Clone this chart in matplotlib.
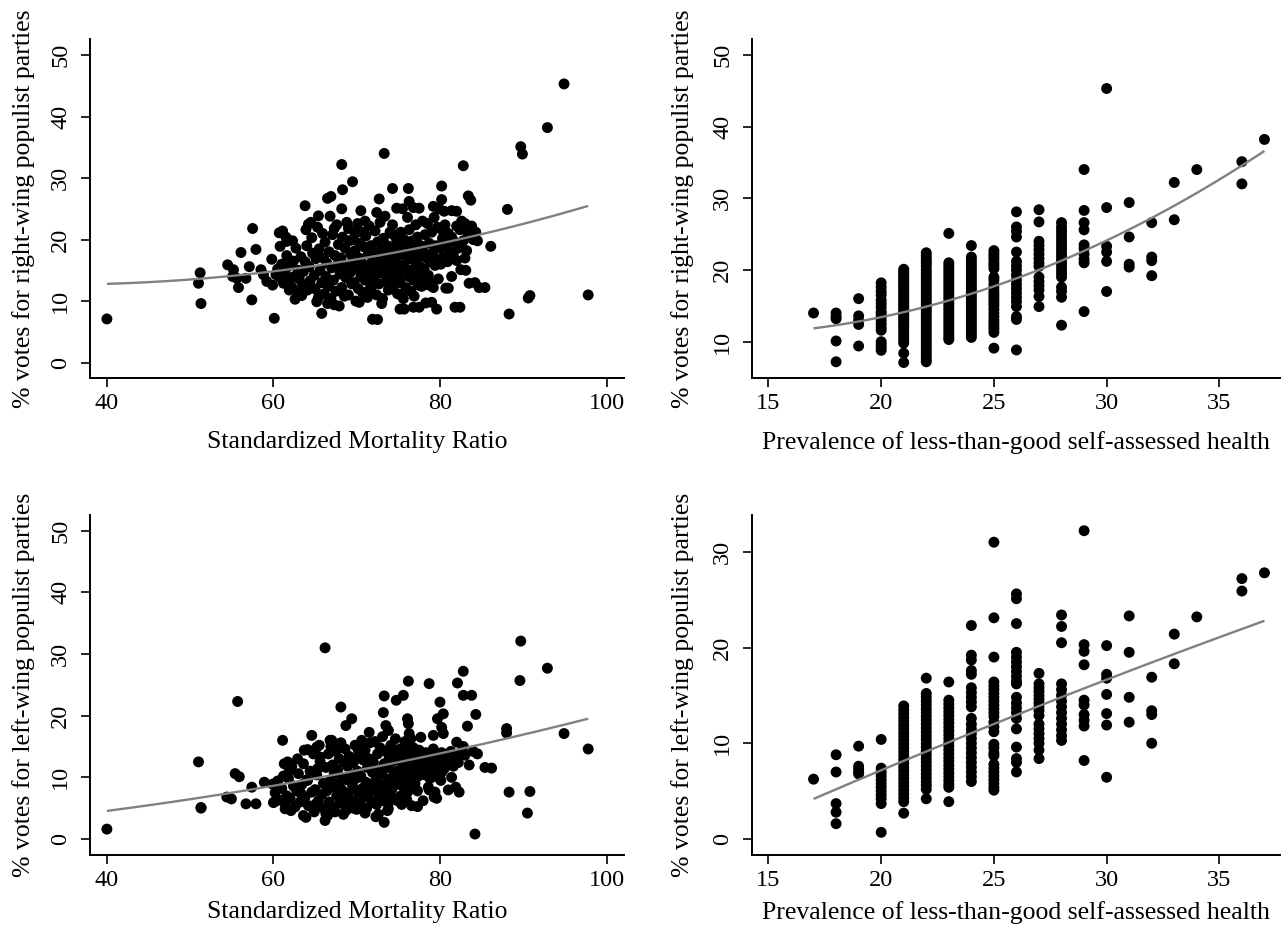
import numpy as np
import matplotlib
matplotlib.use("Agg")
import matplotlib.pyplot as plt

plt.rcParams['font.family'] = ['Liberation Serif', 'DejaVu Serif']

# ---------------- data ----------------
# Top-left: SMR vs right-wing vote (outliers + core cloud)
tl_smr = [40.0, 51.2, 51.0, 51.3, 54.5, 55.6, 55.8, 56.1, 57.5, 57.9, 57.4, 57.1, 60.1, 59.8, 61.1,
          63.8, 65.8, 66.9, 68.2, 68.3, 69.5, 70.5, 72.5, 72.7, 73.3, 74.3, 76.2, 76.3, 77.5, 75.7,
          77.5, 79.0, 79.6, 80.2, 80.2, 82.8, 83.4, 83.7, 82.0, 82.4, 83.1, 84.2, 85.4, 86.1, 81.0,
          88.1, 88.3, 89.7, 89.9, 90.6, 90.8, 92.9, 94.9, 97.8, 55.2, 55.1, 56.7, 58.5, 58.8, 59.2,
          59.9, 60.7, 60.8, 61.6, 63.3, 64.2, 65.4, 66.5, 67.3, 71.9, 74.8, 76.8, 79.2, 81.4, 81.8,
          82.5, 83.5, 84.7, 80.7, 78.7, 77.8, 78.3, 76.8, 75.2,
          60.5, 60.8, 61.0, 61.2, 61.4, 61.6, 61.8, 62.0, 62.2, 62.4, 62.5, 62.7, 62.9, 63.0, 63.1,
          62.3, 61.5, 61.9, 60.3, 62.6,
          63.3, 63.5, 63.6, 63.8, 64.0, 64.1, 64.3, 64.4, 64.6, 64.7, 64.9, 65.0, 65.1, 65.3, 65.4,
          65.5, 65.6, 65.8, 65.9, 66.0, 63.9, 64.5, 65.2, 66.1, 63.4,
          66.2, 66.3, 66.4, 66.6, 66.7, 66.8, 66.9, 67.0, 67.1, 67.2, 67.4, 67.5, 67.6, 67.7, 67.8,
          67.9, 68.0, 68.1, 68.2, 68.3, 68.4, 68.5, 68.6, 68.7, 68.8, 68.9, 69.0, 69.1, 69.2, 69.3,
          66.5, 67.3, 68.2, 69.4, 69.0,
          69.5, 69.6, 69.7, 69.8, 69.9, 70.0, 70.1, 70.2, 70.3, 70.4, 70.5, 70.6, 70.7, 70.8, 70.9,
          71.0, 71.1, 71.2, 71.3, 71.4, 71.5, 71.6, 71.7, 71.8, 71.9, 70.3, 71.0, 69.8, 70.6, 71.5,
          72.0, 72.1, 72.2, 72.3, 72.4, 72.5, 72.6, 72.7, 72.8, 72.9, 73.0, 73.1, 73.2, 73.3, 73.4,
          73.5, 73.6, 73.7, 73.8, 73.9, 74.0, 74.1, 74.2, 74.3, 74.4, 74.5, 74.6, 74.7, 74.8, 74.9,
          72.4, 73.0, 74.3, 73.6, 72.9,
          75.0, 75.1, 75.2, 75.3, 75.4, 75.5, 75.6, 75.7, 75.8, 75.9, 76.0, 76.1, 76.2, 76.3, 76.4,
          76.5, 76.6, 76.7, 76.8, 76.9, 77.0, 77.1, 77.2, 77.3, 77.4, 77.5, 77.6, 77.7, 77.8, 77.9,
          75.5, 76.1, 75.3, 76.9, 77.6,
          78.0, 78.1, 78.2, 78.3, 78.4, 78.5, 78.6, 78.7, 78.8, 78.9, 79.0, 79.1, 79.2, 79.3, 79.4,
          79.5, 79.6, 79.7, 79.8, 79.9, 80.0, 80.1, 80.2, 80.3, 80.4, 80.5, 80.6, 80.8, 80.9, 81.0,
          81.2, 81.4, 81.6, 81.8, 82.0, 82.2, 82.4, 82.6, 82.8, 83.0, 83.2, 83.4, 83.6, 83.8, 84.0,
          84.3, 84.5, 82.0, 81.4, 83.0]
tl_vote = [7.1, 14.6, 12.9, 9.6, 15.9, 13.7, 12.2, 17.9, 21.8, 18.4, 10.2, 15.6, 7.2, 16.8, 21.4,
           25.5, 8.0, 27.0, 32.2, 28.1, 29.4, 24.7, 7.0, 26.6, 34.0, 28.3, 28.3, 26.2, 25.1, 8.7,
           9.0, 9.8, 8.7, 28.7, 26.5, 32.0, 27.1, 26.4, 24.6, 9.0, 15.0, 13.0, 12.2, 18.9, 12.1,
           24.9, 7.9, 35.1, 33.9, 10.5, 10.9, 38.2, 45.3, 11.0, 15.1, 14.0, 13.7, 15.1, 14.3, 13.2,
           12.6, 21.1, 18.9, 19.7, 11.3, 22.5, 23.85, 26.7, 9.4, 7.05, 25.1, 25.2, 25.4, 24.7, 9.0,
           15.1, 12.9, 12.2, 12.1, 12.6, 12.4, 9.7, 9.0, 8.7,
           15.2, 13.8, 16.0, 12.9, 14.6, 17.4, 13.2, 15.8, 12.3, 16.5, 14.0, 18.6, 11.4, 15.0, 13.6,
           19.8, 20.4, 11.8, 14.3, 10.3,
           17.2, 12.6, 14.8, 16.4, 19.0, 11.8, 15.6, 13.3, 20.3, 17.8, 14.2, 12.0, 16.9, 22.0, 10.6,
           18.5, 15.0, 13.0, 21.0, 17.0, 21.6, 22.8, 9.9, 11.2, 10.9,
           19.6, 14.0, 16.2, 12.4, 18.0, 23.8, 10.4, 15.4, 20.8, 13.4, 17.4, 11.6, 22.4, 15.9, 19.2,
           9.2, 14.4, 17.0, 12.2, 20.4, 16.0, 10.8, 18.6, 13.8, 22.8, 15.0, 11.0, 19.8, 14.6, 17.6,
           9.6, 21.8, 25.0, 12.8, 21.8,
           16.4, 20.0, 13.0, 18.2, 10.0, 15.2, 22.6, 12.0, 17.0, 19.4, 14.0, 21.2, 11.4, 16.0, 18.8,
           13.4, 20.6, 15.6, 10.6, 17.8, 22.2, 14.4, 19.0, 12.4, 16.6, 9.8, 23.0, 21.0, 14.8, 11.8,
           18.0, 13.6, 21.4, 15.4, 11.0, 19.6, 16.8, 12.8, 22.8, 14.6, 18.4, 10.4, 20.2, 15.8, 23.8,
           13.2, 17.4, 19.0, 11.8, 16.2, 21.2, 14.0, 18.6, 12.2, 20.8, 15.2, 17.0, 13.6, 19.8, 11.2,
           24.4, 9.6, 22.4, 14.8, 17.0,
           16.0, 18.8, 13.0, 21.2, 14.6, 17.6, 10.4, 20.0, 15.4, 12.2, 19.2, 16.8, 14.0, 21.6, 17.8,
           11.6, 15.0, 19.8, 13.4, 18.4, 16.4, 22.4, 14.4, 20.4, 12.6, 17.2, 15.6, 19.0, 13.8, 23.0,
           25.0, 23.6, 11.0, 10.8, 14.8,
           18.0, 15.2, 20.8, 12.8, 17.0, 22.6, 14.2, 19.4, 16.4, 13.0, 21.2, 17.8, 12.2, 23.6, 15.8,
           19.0, 16.8, 22.0, 13.6, 25.0, 18.6, 16.0, 21.6, 20.2, 17.2, 24.6, 22.4, 19.0, 16.4, 21.0,
           18.0, 20.4, 17.4, 19.6, 22.2, 18.6, 21.6, 23.0, 19.8, 22.6, 18.2, 20.8, 21.8, 22.2, 20.0,
           21.2, 19.8, 16.6, 14.0, 17.0]

# Bottom-left: SMR vs left-wing vote
bl_smr = [40.0, 51.0, 51.3, 51.3, 55.7, 55.4, 55.9, 54.4, 54.95, 56.7, 57.9, 57.4, 58.9, 59.9, 60.1,
          61.1, 61.7, 61.9, 61.4, 62.9, 63.7, 64.1, 63.6, 63.9, 64.6, 65.3, 65.1, 66.2, 66.2, 66.3,
          65.2, 65.6, 66.8, 68.1, 68.7, 69.4, 70.2, 71.5, 73.3, 73.2, 73.5, 73.8, 73.3, 72.3, 73.8,
          74.75, 75.6, 74.65, 76.2, 76.1, 76.2, 76.3, 76.5, 77.7, 78.7, 79.2, 77.3, 77.97, 78.7, 79.6,
          79.3, 80.0, 79.7, 80.4, 80.2, 80.4, 80.1, 80.2, 81.0, 81.4, 81.9, 82.3, 82.1, 82.8, 82.8,
          83.8, 83.3, 84.3, 82.0, 82.8, 84.2, 85.4, 86.2, 88.0, 88.0, 88.3, 89.7, 89.6, 90.8, 90.5,
          92.9, 94.9, 97.8,
          60.2, 60.5, 60.7, 61.0, 61.2, 61.4, 61.6, 61.8, 62.0, 62.2, 62.4, 62.6, 62.8, 63.0, 63.2,
          60.0, 61.3, 62.1,
          63.4, 63.6, 63.8, 64.0, 64.2, 64.4, 64.6, 64.8, 65.0, 65.2, 65.4, 65.6, 65.8, 66.0, 64.1,
          64.9, 63.3, 65.5, 66.0,
          66.3, 66.4, 66.6, 66.7, 66.8, 66.9, 67.0, 67.1, 67.2, 67.3, 67.4, 67.5, 67.6, 67.7, 67.8,
          67.9, 68.0, 68.1, 68.2, 68.3, 68.4, 68.5, 68.6, 68.7, 68.8, 68.9, 69.0, 69.1, 69.2, 69.3,
          67.0, 68.4, 66.5,
          69.5, 69.6, 69.7, 69.8, 69.9, 70.0, 70.1, 70.2, 70.3, 70.4, 70.5, 70.6, 70.7, 70.8, 70.9,
          71.0, 71.1, 71.2, 71.3, 71.4, 71.5, 71.6, 71.7, 71.8, 71.9, 70.4, 71.0, 69.6,
          72.0, 72.1, 72.2, 72.3, 72.4, 72.5, 72.6, 72.7, 72.8, 72.9, 73.0, 73.1, 73.2, 73.3, 73.4,
          73.5, 73.6, 73.7, 73.8, 73.9, 74.0, 74.1, 74.2, 74.3, 74.4, 74.5, 74.6, 74.7, 74.8, 74.9,
          72.6, 73.7,
          75.0, 75.1, 75.2, 75.3, 75.4, 75.5, 75.6, 75.7, 75.8, 75.9, 76.0, 76.1, 76.2, 76.3, 76.4,
          76.5, 76.6, 76.7, 76.8, 76.9, 77.0, 77.1, 77.2, 77.3, 77.4, 77.5, 77.6, 77.8, 77.9, 75.4,
          76.0, 76.6,
          78.0, 78.2, 78.3, 78.4, 78.6, 78.8, 79.0, 79.2, 79.4, 79.6, 79.8, 80.0, 80.2, 80.5, 80.7,
          81.0, 81.3, 81.6, 81.8, 82.2, 82.5, 83.0, 83.5, 84.0, 84.5, 78.6, 79.4]
bl_vote = [1.6, 12.5, 5.1, 5.0, 22.3, 10.6, 10.1, 6.8, 6.5, 5.7, 5.7, 8.4, 9.2, 8.9, 6.0,
           16.0, 12.5, 11.1, 4.9, 13.0, 14.4, 9.5, 3.8, 3.5, 16.8, 11.4, 5.7, 31.0, 3.0, 4.1,
           14.9, 13.3, 16.0, 21.4, 18.4, 19.5, 14.4, 17.3, 23.2, 20.5, 18.4, 17.6, 2.7, 3.6, 4.9,
           22.5, 23.3, 16.25, 25.6, 19.5, 18.7, 17.1, 16.25, 16.5, 25.2, 16.8, 5.25, 6.2, 7.96, 6.6,
           6.8, 22.2, 19.5, 20.3, 18.1, 17.1, 9.5, 10.8, 7.96, 10.0, 8.4, 7.6, 25.3, 27.2, 23.3,
           23.3, 18.3, 20.2, 15.7, 15.0, 0.8, 11.6, 11.5, 17.9, 17.2, 7.6, 32.1, 25.7, 7.7, 4.2,
           27.7, 17.1, 14.6,
           7.5, 9.4, 6.3, 8.2, 10.2, 5.8, 7.0, 9.8, 6.6, 11.8, 8.6, 5.2, 7.8, 10.6, 6.0,
           5.9, 12.2, 4.6,
           8.8, 12.2, 6.8, 9.6, 5.4, 11.0, 7.6, 13.8, 8.0, 10.4, 6.2, 12.6, 7.2, 9.0, 14.5,
           4.4, 7.4, 15.2, 5.0,
           11.6, 7.8, 13.8, 6.0, 9.4, 15.0, 5.2, 12.0, 8.4, 10.6, 4.4, 14.2, 7.0, 11.2, 9.0,
           13.0, 5.8, 15.6, 8.0, 10.0, 12.6, 6.6, 14.6, 4.6, 9.6, 11.8, 7.4, 13.4, 5.6, 10.4,
           16.0, 4.0, 3.8,
           8.6, 12.4, 6.2, 15.2, 9.8, 4.8, 11.0, 7.6, 13.6, 5.6, 10.2, 16.0, 8.2, 12.8, 6.8,
           14.4, 9.2, 5.0, 11.6, 7.2, 13.0, 15.6, 8.8, 6.0, 10.8, 14.8, 4.2, 5.0,
           12.4, 7.8, 15.8, 9.6, 5.6, 13.8, 11.2, 6.8, 14.8, 8.4, 10.6, 16.6, 6.2, 12.2, 9.0,
           14.2, 7.4, 11.6, 5.8, 13.2, 9.8, 15.2, 8.0, 12.6, 6.6, 10.4, 14.0, 8.8, 11.0, 6.2,
           4.0, 4.6,
           12.8, 9.2, 14.6, 7.0, 11.4, 10.0, 13.4, 8.2, 15.8, 10.8, 12.0, 7.6, 14.2, 9.4, 11.8,
           13.0, 8.6, 10.6, 14.8, 12.4, 9.0, 11.2, 13.6, 7.8, 10.2, 14.4, 12.0, 11.0, 13.2, 5.6,
           6.4, 5.4,
           12.6, 10.4, 14.0, 11.6, 13.0, 9.8, 12.2, 14.6, 11.0, 13.4, 10.0, 12.0, 14.0, 11.4, 13.0,
           12.6, 14.2, 11.8, 13.4, 12.4, 14.0, 13.6, 12.0, 14.2, 13.8, 8.4, 7.6]

# Right panels: self-assessed health levels (integer) and vote shares at each level
sah_levels = [17, 18, 19, 20, 21, 22, 23, 24, 25, 26, 27, 28, 29, 30, 31, 32, 33, 34, 36, 37]
tr_votes_by_level = [
    [14.0],
    [14.0, 13.5, 13.2, 10.1, 7.2],
    [16.0, 13.6, 13.0, 12.4, 9.4],
    [18.2, 17.6, 17.0, 16.5, 15.8, 15.3, 14.8, 14.2, 13.9, 13.5, 13.0, 12.5, 12.0, 11.6, 10.0, 9.6, 9.2, 8.8],
    [20.1, 19.8, 19.5, 19.2, 19.0, 18.7, 18.4, 18.1, 17.9, 17.6, 17.3, 17.0, 16.7, 16.4, 16.1, 15.8, 15.5,
     15.2, 14.9, 14.6, 14.3, 14.0, 13.7, 13.4, 13.1, 12.8, 12.5, 12.2, 11.8, 11.4, 11.0, 10.6, 10.2, 9.8, 8.4, 7.1],
    [22.4, 22.0, 21.6, 21.2, 20.9, 20.5, 20.0, 19.6, 19.2, 18.8, 18.4, 18.0, 17.6, 17.2, 16.8, 16.4, 16.0,
     15.6, 15.2, 14.8, 14.4, 14.0, 13.6, 13.2, 12.8, 12.4, 12.0, 11.6, 11.2, 10.8, 10.4, 10.0, 9.6, 9.2,
     8.8, 8.4, 8.0, 7.6, 7.2],
    [25.1, 21.0, 20.6, 20.2, 19.8, 19.4, 19.0, 18.6, 18.2, 17.8, 17.4, 17.0, 16.6, 16.2, 15.8, 15.4, 15.0,
     14.6, 14.2, 13.8, 13.4, 13.0, 12.6, 12.2, 11.8, 11.4, 11.0, 10.6, 10.3],
    [23.4, 21.8, 21.4, 21.0, 20.6, 20.2, 19.8, 19.4, 19.0, 18.6, 18.2, 17.8, 17.4, 17.0, 16.6, 16.2, 15.8,
     15.4, 15.0, 14.6, 14.2, 13.8, 13.4, 13.0, 12.6, 12.2, 11.8, 11.4, 11.0, 10.6],
    [22.7, 22.3, 21.9, 21.5, 21.0, 20.6, 20.2, 19.0, 18.6, 18.0, 17.5, 17.0, 16.6, 16.2, 15.8, 15.4, 15.0,
     14.5, 14.0, 13.5, 13.0, 12.6, 12.2, 11.8, 11.3, 9.1],
    [28.1, 26.0, 25.4, 24.6, 22.5, 21.2, 20.6, 20.0, 19.3, 18.6, 18.0, 17.4, 16.8, 16.2, 15.6, 14.9, 13.5,
     13.1, 8.85],
    [28.4, 26.7, 24.0, 23.4, 22.8, 22.2, 21.6, 21.0, 20.5, 19.0, 18.4, 17.8, 17.2, 16.3, 14.9],
    [26.6, 26.0, 25.5, 25.0, 24.5, 24.0, 23.5, 23.0, 22.5, 22.0, 21.5, 21.0, 20.5, 20.0, 19.5, 19.0, 17.6,
     17.0, 16.2, 12.3],
    [34.0, 28.3, 26.6, 25.6, 23.5, 23.0, 22.2, 21.5, 21.0, 14.2],
    [45.3, 28.7, 23.3, 22.5, 21.2, 17.0],
    [29.4, 24.6, 20.8, 20.4],
    [26.6, 21.8, 21.3, 19.2],
    [32.2, 27.0],
    [34.0],
    [35.1, 32.0],
    [38.2],
]
br_votes_by_level = [
    [6.25],
    [8.8, 7.0, 3.7, 2.8, 1.6],
    [9.7, 7.6, 7.3, 7.0, 6.8],
    [10.4, 7.4, 7.0, 6.6, 6.2, 5.8, 5.4, 5.0, 4.6, 4.2, 3.7, 0.7],
    [13.9, 13.5, 13.1, 12.7, 12.3, 11.9, 11.5, 11.1, 10.7, 10.3, 9.9, 9.5, 9.1, 8.7, 8.3, 7.9, 7.5, 7.1,
     6.7, 6.3, 5.9, 5.5, 5.1, 4.7, 4.3, 3.9, 2.7],
    [16.8, 15.2, 14.8, 14.4, 14.0, 13.6, 13.2, 12.8, 12.4, 12.0, 11.6, 11.2, 10.8, 10.4, 10.0, 9.6, 9.2,
     8.8, 8.4, 8.0, 7.6, 7.2, 6.8, 6.4, 6.0, 5.6, 5.2, 4.2],
    [16.4, 14.5, 14.1, 13.7, 13.3, 12.9, 12.5, 12.1, 11.7, 11.3, 10.9, 10.5, 10.1, 9.7, 9.3, 8.9, 8.5,
     8.1, 7.7, 7.3, 6.9, 6.5, 6.1, 5.7, 5.4, 3.9],
    [22.3, 19.2, 18.7, 17.6, 17.2, 15.8, 15.3, 14.8, 14.3, 13.8, 12.6, 12.0, 11.5, 11.0, 10.5, 10.0, 9.5,
     9.0, 8.5, 8.0, 7.5, 7.0, 6.5, 6.0],
    [31.0, 23.1, 19.0, 16.4, 16.0, 15.6, 15.2, 14.8, 14.4, 14.0, 13.6, 13.2, 12.8, 12.2, 11.7, 11.2, 9.9,
     9.5, 9.0, 8.7, 7.8, 7.4, 7.0, 6.6, 6.2, 5.8, 5.4, 5.1],
    [25.6, 25.1, 22.5, 19.5, 19.0, 18.5, 18.0, 17.5, 17.0, 16.5, 16.2, 14.8, 14.2, 13.7, 13.2, 12.6, 11.5,
     9.6, 8.4, 8.0, 7.0],
    [17.3, 16.2, 15.8, 15.4, 15.0, 14.6, 14.2, 13.8, 13.4, 12.9, 12.0, 11.5, 11.0, 10.5, 10.0, 9.3, 8.4],
    [23.4, 22.2, 20.5, 16.2, 15.6, 15.0, 14.4, 13.8, 13.2, 12.6, 12.0, 11.4, 10.8, 10.3],
    [32.2, 20.3, 19.6, 18.2, 14.5, 14.0, 13.0, 12.4, 11.8, 8.2],
    [20.2, 17.2, 16.8, 15.1, 13.1, 11.9, 6.45],
    [23.3, 19.5, 14.8, 12.2],
    [16.9, 13.4, 13.0, 10.0],
    [21.4, 18.3],
    [23.2],
    [27.2, 25.9],
    [27.8],
]

# fitted curves: y = a + b*(x - x0) + c*(x - x0)^2
fit_tl = dict(x0=40.0, a=12.8, b=0.04, c=0.0031)
fit_bl = dict(x0=40.0, a=4.55, b=0.175, c=0.00145)
fit_tr = dict(x0=17.0, a=11.86, b=0.396, c=0.04203)
fit_br = dict(x0=17.0, a=4.19, b=1.01, c=-0.004)

xlabel_smr = "Standardized Mortality Ratio"
xlabel_sah = "Prevalence of less-than-good self-assessed health"
ylabel_right = "% votes for right-wing populist parties"
ylabel_left = "% votes for left-wing populist parties"

smr_ticks = [40, 60, 80, 100]
sah_ticks = [15, 20, 25, 30, 35]
vote_ticks_50 = [0, 10, 20, 30, 40, 50]
vote_ticks_tr = [10, 20, 30, 40, 50]
vote_ticks_br = [0, 10, 20, 30]

# ---------------- figure ----------------
W, H = 1283, 934
fig = plt.figure(figsize=(W / 100, H / 100), dpi=100)


def px_axes(left, right, top, bottom):
    return fig.add_axes([left / W, 1 - bottom / H, (right - left) / W, (bottom - top) / H])


def expand(levels, groups):
    xs, ys = [], []
    for lv, g in zip(levels, groups):
        for v in g:
            xs.append(lv)
            ys.append(v)
    return xs, ys


def fit_curve(ax, xs, fit):
    xx = np.linspace(min(xs), max(xs), 200)
    t = xx - fit['x0']
    yy = fit['a'] + fit['b'] * t + fit['c'] * t ** 2
    ax.plot(xx, yy, color='#808080', lw=1.7, zorder=3, solid_capstyle='butt')


def style(ax, xticks, yticks, xlim, ylim, xlabel, ylabel, xlab_y, ylab_x):
    ax.set_xlim(*xlim)
    ax.set_ylim(*ylim)
    ax.set_xticks(xticks)
    ax.set_yticks(yticks)
    for s in ['top', 'right']:
        ax.spines[s].set_visible(False)
    for s in ['left', 'bottom']:
        ax.spines[s].set_linewidth(1.4)
    ax.tick_params(direction='out', length=6.5, width=1.2, labelsize=17.5)
    ax.tick_params(axis='x', pad=4)
    ax.tick_params(axis='y', pad=7, labelrotation=90)
    for lab in ax.get_yticklabels():
        lab.set_va('center')
    ax.set_xlabel(xlabel, fontsize=18.5, va='center')
    ax.set_ylabel(ylabel, fontsize=18.5, va='center')
    ax.xaxis.set_label_coords(0.5, xlab_y)
    ax.yaxis.set_label_coords(ylab_x, 0.5)
    ax.set_facecolor('white')


MS = 62

# top-left
ax1 = px_axes(90, 624, 39, 378)
ax1.scatter(tl_smr, tl_vote, s=MS, c='black', edgecolors='none', zorder=2)
fit_curve(ax1, tl_smr, fit_tl)
style(ax1, smr_ticks, vote_ticks_50, (37.97, 102.1), (-2.5, 52.6),
      xlabel_smr, ylabel_right, -0.19, -0.125)

# top-right
ax2 = px_axes(752, 1280, 39, 378)
trx, try_ = expand(sah_levels, tr_votes_by_level)
ax2.scatter(trx, try_, s=MS, c='black', edgecolors='none', zorder=2)
fit_curve(ax2, trx, fit_tr)
style(ax2, sah_ticks, vote_ticks_tr, (14.27, 37.69), (4.94, 52.2),
      xlabel_sah, ylabel_right, -0.19, -0.131)

# bottom-left
ax3 = px_axes(90, 624, 515, 855)
ax3.scatter(bl_smr, bl_vote, s=MS, c='black', edgecolors='none', zorder=2)
fit_curve(ax3, bl_smr, fit_bl)
style(ax3, smr_ticks, vote_ticks_50, (37.97, 102.1), (-2.6, 52.55),
      xlabel_smr, ylabel_left, -0.168, -0.125)

# bottom-right
ax4 = px_axes(752, 1280, 515, 855)
brx, bry = expand(sah_levels, br_votes_by_level)
ax4.scatter(brx, bry, s=MS, c='black', edgecolors='none', zorder=2)
fit_curve(ax4, brx, fit_br)
style(ax4, sah_ticks, vote_ticks_br, (14.27, 37.69), (-1.67, 33.84),
      xlabel_sah, ylabel_left, -0.168, -0.131)

fig.savefig('out.png', dpi=100, facecolor='white')
